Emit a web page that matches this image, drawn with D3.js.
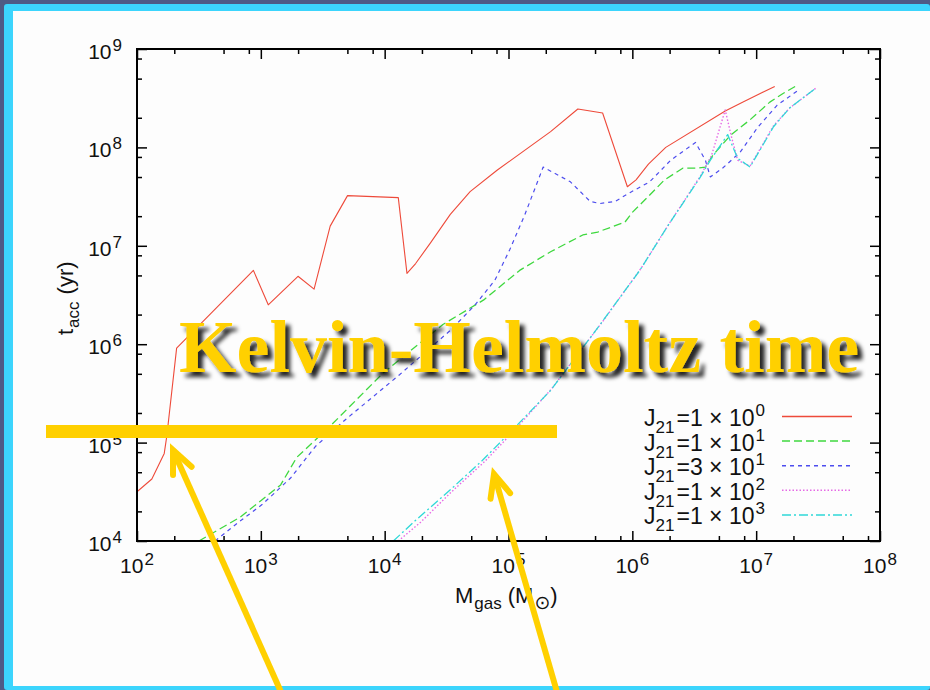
<!DOCTYPE html>
<html>
<head>
<meta charset="utf-8">
<script src="https://cdn.jsdelivr.net/npm/d3@7"></script>
<style>
  html, body { margin: 0; padding: 0; background: #4e5b85; }
  svg { display: block; }
</style>
</head>
<body>
<svg id="chart" width="930" height="690"></svg>
<script>
// Accretion time t_acc versus gas mass M_gas for several UV backgrounds J21.
// All values are log10: log10(M_gas / Msun) and log10(t_acc / yr).

const redLogM   = [2.00, 2.12, 2.22, 2.24, 2.32, 2.94, 3.06, 3.30, 3.43, 3.56, 3.70, 4.11, 4.18, 4.25, 4.37, 4.53, 4.69, 4.91, 5.34, 5.56, 5.76, 5.96, 6.03, 6.13, 6.27, 6.75, 6.89, 7.15];
const redLogT   = [4.50, 4.63, 4.89, 5.06, 5.96, 6.75, 6.40, 6.69, 6.56, 7.20, 7.51, 7.49, 6.72, 6.82, 7.03, 7.32, 7.55, 7.77, 8.16, 8.39, 8.35, 7.60, 7.67, 7.83, 8.00, 8.37, 8.46, 8.62];

const greenLogM = [2.50, 2.83, 3.01, 3.16, 3.29, 3.57, 3.99, 4.47, 4.80, 5.09, 5.34, 5.60, 5.72, 5.94, 6.00, 6.12, 6.26, 6.41, 6.52, 6.59, 6.65, 6.79, 6.95, 7.11, 7.22, 7.33];
const greenLogT = [4.00, 4.24, 4.42, 4.57, 4.85, 5.18, 5.71, 6.20, 6.45, 6.75, 6.94, 7.11, 7.14, 7.24, 7.34, 7.49, 7.67, 7.79, 7.79, 7.80, 7.92, 8.12, 8.28, 8.46, 8.55, 8.63];

const blueLogM  = [2.63, 2.83, 3.01, 3.24, 3.44, 3.68, 4.12, 4.53, 4.73, 4.89, 5.01, 5.13, 5.28, 5.50, 5.66, 5.74, 5.86, 5.98, 6.14, 6.31, 6.51, 6.59, 6.63, 6.73, 6.87, 7.01, 7.17, 7.34];
const blueLogT  = [4.00, 4.20, 4.37, 4.64, 4.96, 5.23, 5.69, 6.14, 6.40, 6.65, 6.96, 7.31, 7.80, 7.65, 7.45, 7.43, 7.45, 7.54, 7.65, 7.87, 8.05, 7.87, 7.70, 7.79, 7.95, 8.20, 8.43, 8.58];

const magentaLogM = [4.11, 4.29, 4.54, 4.81, 5.03, 5.35, 5.76, 6.07, 6.29, 6.55, 6.64, 6.75, 6.80, 6.85, 6.95, 7.02, 7.14, 7.27, 7.48];
const magentaLogT = [4.00, 4.19, 4.50, 4.81, 5.10, 5.55, 6.23, 6.77, 7.21, 7.71, 7.92, 8.38, 8.11, 7.87, 7.81, 7.96, 8.22, 8.40, 8.60];

const cyanLogM  = [4.07, 4.25, 4.53, 4.79, 5.01, 5.34, 5.74, 6.06, 6.28, 6.55, 6.63, 6.77, 6.85, 6.95, 7.02, 7.14, 7.27, 7.48];
const cyanLogT  = [4.00, 4.21, 4.52, 4.82, 5.10, 5.53, 6.20, 6.75, 7.19, 7.70, 7.87, 8.13, 7.89, 7.80, 7.95, 8.21, 8.40, 8.60];

// Legend labels: J21 = mantissa x 10^exponent
const legendMantissa = ["1", "1", "3", "1", "1"];
const legendExponent = ["0", "1", "1", "2", "3"];

// Axis decades (exponents)
const xTickExps = [2, 3, 4, 5, 6, 7, 8];
const yTickExps = [4, 5, 6, 7, 8, 9];
const minorMultipliers = [2, 5, 8];

const series = [
  { m: redLogM,     t: redLogT,     color: "#ee4a3a", width: 1.1, dash: null },
  { m: greenLogM,   t: greenLogT,   color: "#3fd83f", width: 1.3, dash: "8,4" },
  { m: blueLogM,    t: blueLogT,    color: "#4d4dee", width: 1.2, dash: "4,4" },
  { m: magentaLogM, t: magentaLogT, color: "#e66ae6", width: 1.4, dash: "1.5,2" },
  { m: cyanLogM,    t: cyanLogT,    color: "#2fd8d8", width: 1.3, dash: "9,3,2,3" }
];

const svg = d3.select("#chart");
const W = 930, H = 690;

// Slide frame
svg.append("rect").attr("x", 0).attr("y", 0).attr("width", W).attr("height", H).attr("fill", "#4e5b85");
svg.append("rect").attr("x", 4).attr("y", 4).attr("width", W - 4).attr("height", H - 4).attr("rx", 3).attr("fill", "#3cd5fd");
svg.append("rect").attr("x", 13).attr("y", 11).attr("width", W - 13).attr("height", 675).attr("fill", "#fdfdfd");

const plot = { left: 137, right: 880, top: 49, bottom: 541 };

const x = d3.scaleLog().domain([1e2, 1e8]).range([plot.left, plot.right]);
const y = d3.scaleLog().domain([1e4, 1e9]).range([plot.bottom, plot.top]);

const font = "'Liberation Sans', Arial, Helvetica, sans-serif";

// Clip curves to the plotting box
svg.append("defs").append("clipPath").attr("id", "plotClip")
  .append("rect").attr("x", plot.left).attr("y", plot.top)
  .attr("width", plot.right - plot.left).attr("height", plot.bottom - plot.top);

// Curves
const line = d3.line().x(d => x(d[0])).y(d => y(d[1]));
const curves = svg.append("g").attr("clip-path", "url(#plotClip)");
series.forEach(s => {
  const pts = s.m.map((v, i) => [Math.pow(10, v), Math.pow(10, s.t[i])]);
  curves.append("path").datum(pts)
    .attr("d", line)
    .attr("fill", "none")
    .attr("stroke", s.color)
    .attr("stroke-width", s.width)
    .attr("stroke-dasharray", s.dash)
    .attr("stroke-linejoin", "round");
});

// Axes: major and minor ticks pointing inward on all four sides
const majorX = xTickExps.map(e => Math.pow(10, e));
const majorY = yTickExps.map(e => Math.pow(10, e));
const minorX = [];
xTickExps.slice(0, -1).forEach(e => minorMultipliers.forEach(m => minorX.push(m * Math.pow(10, e))));
const minorY = [];
yTickExps.slice(0, -1).forEach(e => minorMultipliers.forEach(m => minorY.push(m * Math.pow(10, e))));

function styleAxis(g) {
  g.selectAll("path.domain").remove();
  g.selectAll("text").remove();
  g.selectAll("line").attr("stroke", "#000").attr("stroke-width", 1.5);
}

const axes = svg.append("g");
axes.append("g").attr("transform", `translate(0,${plot.bottom})`)
  .call(d3.axisBottom(x).tickValues(majorX).tickSize(-10)).call(styleAxis);
axes.append("g").attr("transform", `translate(0,${plot.bottom})`)
  .call(d3.axisBottom(x).tickValues(minorX).tickSize(-5)).call(styleAxis);
axes.append("g").attr("transform", `translate(0,${plot.top})`)
  .call(d3.axisTop(x).tickValues(majorX).tickSize(-10)).call(styleAxis);
axes.append("g").attr("transform", `translate(0,${plot.top})`)
  .call(d3.axisTop(x).tickValues(minorX).tickSize(-5)).call(styleAxis);
axes.append("g").attr("transform", `translate(${plot.left},0)`)
  .call(d3.axisLeft(y).tickValues(majorY).tickSize(-10)).call(styleAxis);
axes.append("g").attr("transform", `translate(${plot.left},0)`)
  .call(d3.axisLeft(y).tickValues(minorY).tickSize(-5)).call(styleAxis);
axes.append("g").attr("transform", `translate(${plot.right},0)`)
  .call(d3.axisRight(y).tickValues(majorY).tickSize(-10)).call(styleAxis);
axes.append("g").attr("transform", `translate(${plot.right},0)`)
  .call(d3.axisRight(y).tickValues(minorY).tickSize(-5)).call(styleAxis);

axes.append("rect")
  .attr("x", plot.left).attr("y", plot.top)
  .attr("width", plot.right - plot.left).attr("height", plot.bottom - plot.top)
  .attr("fill", "none").attr("stroke", "#000").attr("stroke-width", 2);

// Power-of-ten tick labels
function powerLabel(g, exp) {
  g.append("tspan").text("10");
  g.append("tspan").attr("dy", -8).attr("dx", 1).attr("font-size", 17).text(exp);
}
const labels = svg.append("g").attr("font-family", font).attr("fill", "#111");
xTickExps.forEach(e => {
  labels.append("text")
    .attr("x", x(Math.pow(10, e))).attr("y", 573)
    .attr("text-anchor", "middle").attr("font-size", 21)
    .call(powerLabel, e);
});
yTickExps.forEach(e => {
  labels.append("text")
    .attr("x", 122).attr("y", y(Math.pow(10, e)) + 10)
    .attr("text-anchor", "end").attr("font-size", 21)
    .call(powerLabel, e);
});

// Axis titles
const xTitle = labels.append("text").attr("x", 455).attr("y", 603).attr("font-size", 22);
xTitle.append("tspan").text("M");
xTitle.append("tspan").attr("dy", 6).attr("font-size", 17).attr("dx", 1).text("gas");
xTitle.append("tspan").attr("dy", -6).attr("dx", 6).text("(M");
xTitle.append("tspan").attr("dy", 6).attr("dx", 1).attr("font-size", 19)
  .attr("font-family", "'DejaVu Sans', sans-serif").text("\u2299");
xTitle.append("tspan").attr("dy", -6).text(")");

const yTitle = labels.append("text")
  .attr("transform", "translate(73,335) rotate(-90)")
  .attr("font-size", 22);
yTitle.append("tspan").text("t");
yTitle.append("tspan").attr("dy", 6).attr("dx", 1).attr("font-size", 17).text("acc");
yTitle.append("tspan").attr("dy", -6).attr("dx", 7).text("(yr)");

// Legend
const legend = svg.append("g").attr("font-family", font).attr("fill", "#111");
series.forEach((s, i) => {
  const ty = 426 + i * 24.6;
  const t = legend.append("text").attr("x", 765).attr("y", ty)
    .attr("text-anchor", "end").attr("font-size", 23);
  t.append("tspan").text("J");
  t.append("tspan").attr("dy", 7).attr("font-size", 17).text("21");
  t.append("tspan").attr("dy", -7).attr("dx", 2).text("=" + legendMantissa[i] + " \u00d7 10");
  t.append("tspan").attr("dy", -10).attr("dx", 1).attr("font-size", 17).text(legendExponent[i]);
  legend.append("line")
    .attr("x1", 782).attr("x2", 852).attr("y1", ty - 9.5).attr("y2", ty - 9.5)
    .attr("stroke", s.color).attr("stroke-width", s.width + 0.2)
    .attr("stroke-dasharray", s.dash);
});

// Annotation overlay: title, threshold bar and arrows
const defs = svg.select("defs");
const shadow = defs.append("filter").attr("id", "textShadow")
  .attr("x", "-10%").attr("y", "-20%").attr("width", "130%").attr("height", "160%");
shadow.append("feDropShadow")
  .attr("dx", 5).attr("dy", 5).attr("stdDeviation", 2.2)
  .attr("flood-color", "#000").attr("flood-opacity", 0.85);

const gold = "#ffd000";
svg.append("text")
  .attr("x", 179).attr("y", 372)
  .attr("font-family", "'Liberation Serif', 'Times New Roman', serif")
  .attr("font-weight", "bold").attr("font-size", 74)
  .attr("fill", gold).attr("filter", "url(#textShadow)")
  .text("Kelvin-Helmoltz time");

svg.append("rect").attr("x", 46).attr("y", 425).attr("width", 511).attr("height", 13).attr("fill", gold);

function arrow(tail, tip) {
  const ang = Math.atan2(tail[1] - tip[1], tail[0] - tip[0]);
  const len = 25, spread = 24 * Math.PI / 180;
  const b1 = [tip[0] + len * Math.cos(ang + spread), tip[1] + len * Math.sin(ang + spread)];
  const b2 = [tip[0] + len * Math.cos(ang - spread), tip[1] + len * Math.sin(ang - spread)];
  const g = svg.append("g").attr("stroke", gold).attr("stroke-width", 6)
    .attr("fill", "none").attr("stroke-linecap", "round");
  g.append("line").attr("x1", tail[0]).attr("y1", tail[1]).attr("x2", tip[0]).attr("y2", tip[1]).attr("stroke-linecap", "butt");
  g.append("polyline").attr("points", [b1, tip, b2].map(p => p.join(",")).join(" "))
    .attr("stroke-linejoin", "miter");
}
arrow([281, 692], [173, 450]);
arrow([557, 692], [494, 474]);
</script>
</body>
</html>
